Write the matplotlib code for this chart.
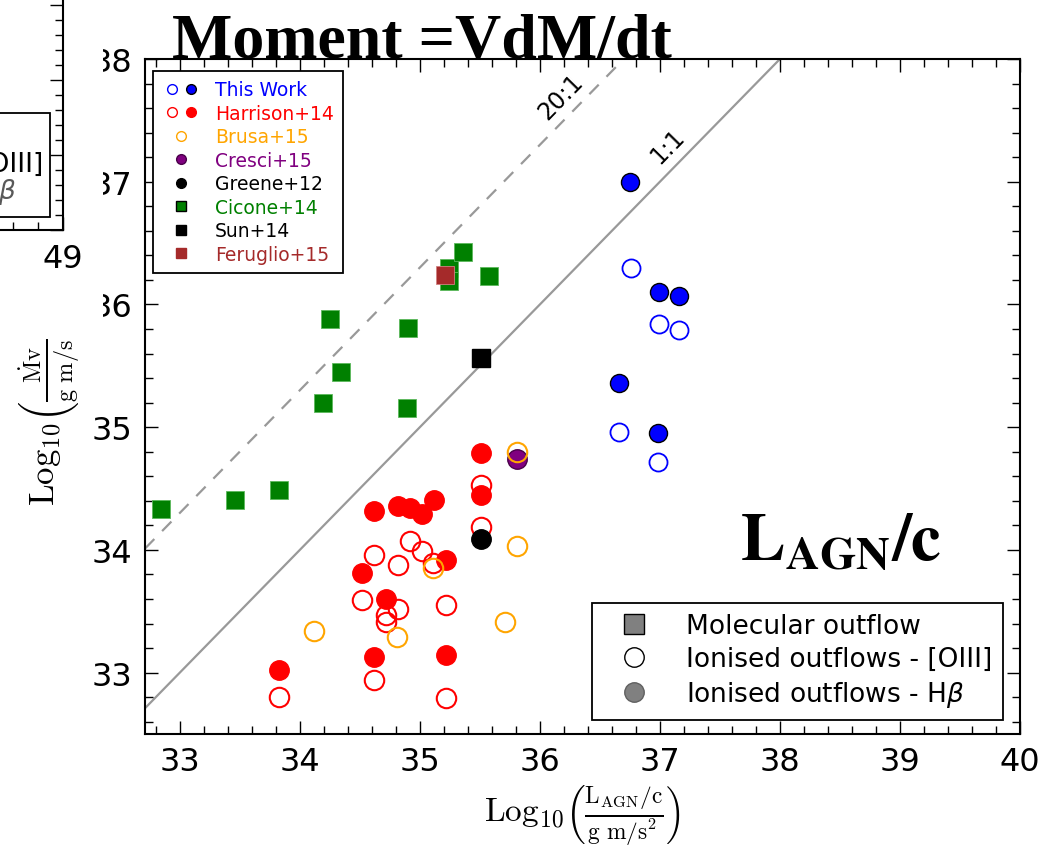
import numpy as np
import matplotlib
matplotlib.use('Agg')
import matplotlib.pyplot as plt
from matplotlib.lines import Line2D
from matplotlib.patches import Rectangle
from matplotlib.legend_handler import HandlerTuple
from matplotlib.ticker import MultipleLocator

# log10 momentum rate vs log10 L_AGN/c, one pair of lists per sample
thiswork_oiii_x = [36.76, 36.99, 37.16, 36.66, 36.98]
thiswork_oiii_y = [36.30, 35.84, 35.79, 34.96, 34.72]
thiswork_hb_x = [36.75, 36.99, 37.16, 36.66, 36.98]
thiswork_hb_y = [37.00, 36.10, 36.07, 35.36, 34.95]

harrison_oiii_x = [35.51, 35.51, 34.92, 35.02, 34.62, 34.82, 35.11, 34.52,
                   34.82, 34.72, 34.72, 35.22, 34.62, 35.22, 33.83]
harrison_oiii_y = [34.53, 34.19, 34.07, 33.99, 33.96, 33.88, 33.89, 33.59,
                   33.52, 33.47, 33.41, 33.55, 32.94, 32.79, 32.80]
harrison_hb_x = [35.51, 35.51, 34.62, 34.82, 34.92, 35.02, 35.12, 35.22,
                 34.52, 34.72, 34.62, 35.22, 33.83]
harrison_hb_y = [34.79, 34.45, 34.32, 34.36, 34.34, 34.29, 34.41, 33.92,
                 33.81, 33.60, 33.13, 33.14, 33.02]

brusa_x = [35.81, 35.81, 35.11, 35.71, 34.81, 34.12]
brusa_y = [34.80, 34.03, 33.85, 33.41, 33.29, 33.34]
cresci_x = [35.81]
cresci_y = [34.74]
greene_x = [35.51]
greene_y = [34.09]

cicone_x = [32.84, 33.46, 33.83, 34.19, 34.34, 34.25, 34.90, 34.89,
            35.24, 35.24, 35.36, 35.58]
cicone_y = [34.33, 34.41, 34.49, 35.20, 35.45, 35.88, 35.81, 35.16,
            36.30, 36.19, 36.43, 36.23]
sun_x = [35.51]
sun_y = [35.56]
feruglio_x = [35.21]
feruglio_y = [36.24]

# momentum boost reference lines
ratios = [1, 20]
ratio_labels = ['1:1', '20:1']
ratio_styles = ['-', (0, (6, 5))]
ratio_label_pos = [(37.06, 37.29), (36.17, 37.70)]

fig = plt.figure(figsize=(10.5, 8.53), dpi=100)
W, H = 1050, 853
ax = fig.add_axes([145 / W, 1 - 735 / H, 875 / W, 675 / H])

xlim = (32.71, 40.0)
ylim = (32.5, 38.0)

xx = np.array(xlim)
for r, lab, ls, (tx, ty) in zip(ratios, ratio_labels, ratio_styles, ratio_label_pos):
    ax.plot(xx, xx + np.log10(r), color='0.6', lw=1.6, ls=ls, zorder=1)
    ax.text(tx, ty, lab, fontsize=17, rotation=45.6, rotation_mode='anchor',
            ha='center', va='center', color='black')

ms_c = 14
ms_s = 13.5
ax.plot(harrison_oiii_x, harrison_oiii_y, 'o', ms=ms_c, mfc='none', mec='red', mew=1.5, ls='none', zorder=3)
ax.plot(harrison_hb_x, harrison_hb_y, 'o', ms=ms_c, mfc='red', mec='red', mew=1.0, ls='none', zorder=4)
ax.plot(cresci_x, cresci_y, 'o', ms=ms_c, mfc='purple', mec='#4a004a', mew=1.0, ls='none', zorder=4)
ax.plot(greene_x, greene_y, 'o', ms=ms_c, mfc='black', mec='black', ls='none', zorder=5)
ax.plot(brusa_x, brusa_y, 'o', ms=ms_c, mfc='none', mec='orange', mew=1.5, ls='none', zorder=6)
ax.plot(thiswork_oiii_x, thiswork_oiii_y, 'o', ms=13, mfc='none', mec='blue', mew=1.3, ls='none', zorder=4)
ax.plot(thiswork_hb_x, thiswork_hb_y, 'o', ms=13, mfc='blue', mec='black', mew=1.0, ls='none', zorder=5)
ax.plot(cicone_x, cicone_y, 's', ms=ms_s, mfc='green', mec='#5cb85c', mew=0.6, ls='none', zorder=4)
ax.plot(sun_x, sun_y, 's', ms=ms_s, mfc='black', mec='black', ls='none', zorder=5)
ax.plot(feruglio_x, feruglio_y, 's', ms=ms_s, mfc='brown', mec='#d08080', mew=0.6, ls='none', zorder=6)

ax.set_xlim(*xlim)
ax.set_ylim(*ylim)
ax.xaxis.set_major_locator(MultipleLocator(1))
ax.xaxis.set_minor_locator(MultipleLocator(0.2))
ax.yaxis.set_major_locator(MultipleLocator(1))
ax.yaxis.set_minor_locator(MultipleLocator(0.2))
ax.tick_params(which='both', direction='in', top=True, right=True, width=1.0)
ax.tick_params(which='major', length=9.5, labelsize=23, pad=9)
ax.tick_params(which='minor', length=5.5)
for sp in ax.spines.values():
    sp.set_linewidth(1.5)

ax.set_xlabel(r'$\mathrm{Log}_{10}\left(\frac{\mathrm{L_{AGN}/c}}{\mathrm{g\ m/s^2}}\right)$',
              fontsize=24, math_fontfamily='cm', va='top')
ax.xaxis.set_label_coords(0.5, -0.072)
ax.set_ylabel(r'$\mathrm{Log}_{10}\left(\frac{\dot{\mathrm{M}}\mathrm{v}}{\mathrm{g\ m/s^2}}\right)$',
              fontsize=25, math_fontfamily='cm')
ax.yaxis.set_label_coords(-0.072, 0.485)

# sample legend
def mk(marker, mfc, mec, ms=7, mew=1.0):
    return Line2D([], [], marker=marker, ls='none', ms=ms, mfc=mfc, mec=mec, mew=mew)

sample_handles = [
    (mk('o', 'none', 'blue'), mk('o', 'blue', 'black')),
    (mk('o', 'none', 'red'), mk('o', 'red', 'red')),
    mk('o', 'none', 'orange'),
    mk('o', 'purple', '#4a004a'),
    mk('o', 'black', 'black'),
    mk('s', 'green', 'black'),
    mk('s', 'black', 'black'),
    mk('s', 'brown', 'brown'),
]
sample_names = ['This Work', 'Harrison+14', 'Brusa+15', 'Cresci+15', 'Greene+12',
                'Cicone+14', 'Sun+14', 'Feruglio+15']
sample_colors = ['blue', 'red', 'orange', 'purple', 'black', 'green', 'black', 'brown']
leg1 = ax.legend(sample_handles, sample_names, loc='upper left',
                 bbox_to_anchor=(8 / 875, 1 - 12 / 675), borderaxespad=0,
                 fontsize=13.5, labelcolor=sample_colors, numpoints=1,
                 handler_map={tuple: HandlerTuple(ndivide=None, pad=0)},
                 handlelength=2.0, handletextpad=0.8, labelspacing=0.24,
                 borderpad=0.5, fancybox=False, framealpha=1, edgecolor='black')
leg1.get_frame().set_linewidth(1.3)
ax.add_artist(leg1)

# outflow phase legend
phase_handles = [
    mk('s', '#808080', 'black', ms=14, mew=1.0),
    mk('o', 'white', 'black', ms=14, mew=1.0),
    mk('o', '#808080', '#606060', ms=14, mew=1.0),
]
phase_names = ['Molecular outflow', 'Ionised outflows - [OIII]',
               r'Ionised outflows - H$\beta$']
leg2 = ax.legend(phase_handles, phase_names, loc='lower right',
                 bbox_to_anchor=(1 - 17 / 875, 14 / 675), borderaxespad=0,
                 fontsize=19, numpoints=1, handlelength=2.4, handletextpad=0.77,
                 labelspacing=0.27, borderpad=0.4, fancybox=False, framealpha=1,
                 edgecolor='black')
leg2.get_frame().set_linewidth(1.3)

# headline text
fig.text(172 / W, 1 - 57 / H, 'Moment =VdM/dt', family='Liberation Serif',
         weight='bold', fontsize=46, va='baseline', ha='left')
fig.text(740 / W, 1 - 560 / H, r'$\mathbf{L_{AGN}/c}$', fontsize=48,
         math_fontfamily='stix', va='baseline', ha='left')

# neighbouring panel edge on the left
fig.patches.append(Rectangle((0, 1 - 340 / H), 103 / W, 340 / H,
                             transform=fig.transFigure, facecolor='white',
                             edgecolor='none', zorder=1))
ax0 = fig.add_axes([-200 / W, 1 - 231 / H, 263 / W, 300 / H], zorder=2)
ax0.set_xlim(46.9, 49.0)
ax0.set_ylim(0, 4)
ax0.xaxis.set_major_locator(MultipleLocator(1))
ax0.xaxis.set_minor_locator(MultipleLocator(0.2))
ax0.yaxis.set_major_locator(MultipleLocator(1))
ax0.yaxis.set_minor_locator(MultipleLocator(0.2))
ax0.tick_params(which='both', direction='in', left=False, labelleft=False,
                right=True, top=False, width=1.0)
ax0.tick_params(which='major', length=9.5, labelsize=23, pad=9)
ax0.tick_params(which='minor', length=5.5)
ax0.set_xticks([49])
for sp in ax0.spines.values():
    sp.set_linewidth(1.5)
fig.patches.append(Rectangle((-60 / W, 1 - 218 / H), 110 / W, 104 / H,
                             transform=fig.transFigure, facecolor='white',
                             edgecolor='black', lw=1.3, zorder=3))
fig.text(43 / W, 1 - 165 / H, 'Ionised outflows - [OIII]', fontsize=19,
         ha='right', va='center', zorder=4)
fig.text(16 / W, 1 - 192 / H, r'Ionised outflows - H$\beta$', fontsize=19,
         ha='right', va='center', zorder=4, color='0.35')

fig.savefig('out.png', dpi=100)
